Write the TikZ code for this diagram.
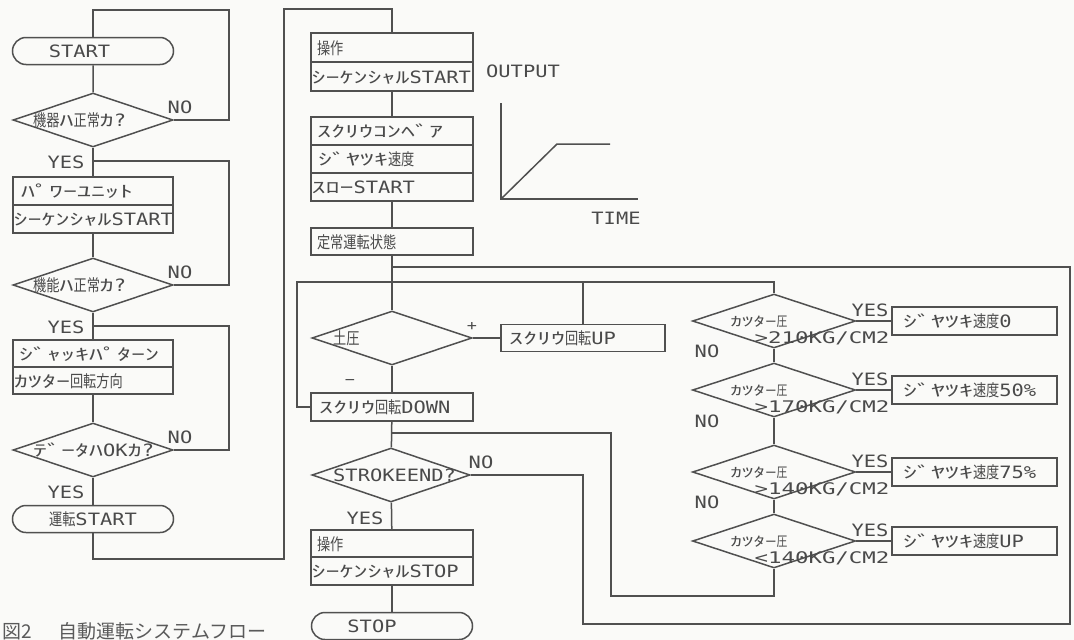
\documentclass[tikz,border=0pt]{standalone}
\usepackage{fontspec}
\usepackage{graphicx}
\usetikzlibrary{shapes.geometric,shapes.misc}
\newfontfamily\zjpkanji[FakeStretch=0.8]{Noto Sans CJK JP}
\newfontfamily\zjpkana[FakeStretch=1.75]{Noto Sans CJK JP}
\newfontfamily\zjpcap{Noto Sans CJK JP}
\newfontfamily\zlatin[FakeStretch=1.2]{DejaVu Sans Mono}
\newfontfamily\zlatinw[FakeStretch=1.4]{DejaVu Sans Mono}
\newcommand\zK[1]{{\zjpkanji\fontsize{16.5pt}{16.5pt}\selectfont #1}}
\newcommand\zH[1]{{\zjpkana\fontsize{16pt}{16pt}\selectfont #1}}
\newcommand\zL[1]{{\zlatin\fontsize{17pt}{17pt}\selectfont #1}}
\newcommand\zLs[1]{{\zlatin\fontsize{14pt}{14pt}\selectfont #1}}
\newcommand\zLw[1]{{\zlatinw\fontsize{16pt}{16pt}\selectfont #1}}
\newcommand\zs[1]{\scalebox{0.82}{#1}}
\newcommand\zbox[3]{\makebox[#1][l]{\hspace*{#2}#3}}
\definecolor{lc}{HTML}{505050}
\definecolor{tc}{HTML}{4A4A4A}
\definecolor{bgc}{HTML}{FAFAF8}
\definecolor{capc}{HTML}{5A5A5A}
\tikzset{
  ln/.style={draw=lc, line width=1.5pt},
  base/.style={inner sep=0pt, text=tc, text height=13pt, text depth=0pt},
  cell/.style={base, draw=lc, line width=1.5pt, rectangle, minimum height=28pt},
  term/.style={base, draw=lc, line width=1.5pt, rounded rectangle, minimum width=161pt, minimum height=27pt},
  dia/.style={draw=lc, line width=1.5pt, diamond, minimum width=160pt, minimum height=54pt, inner sep=0pt},
  txt/.style={base, anchor=west},
  lab/.style={base},
}
\begin{document}
\begin{tikzpicture}[x=1pt,y=-1pt]
\useasboundingbox (0,0) rectangle (1074,640);
\fill[bgc] (0,0) rectangle (1074,640);

% ---------------- left column ----------------
\node[term] (start) at (93,51) {\zL{START}\hspace*{27pt}};
\node[dia] (d1) at (93,120) {};
\node[txt] (d1t) at (33,120) {\zK{機器}\zH{ﾊ}\zK{正常}\zH{ｶ}\zL{?}};
\node[lab] (n1) at (180,107) {\zL{NO}};
\node[lab] (y1) at (66,162) {\zL{YES}};
\node[cell] (b1a) at (93,191) {\zbox{160pt}{8pt}{\zH{ﾊﾟﾜｰﾕﾆｯﾄ}}};
\node[cell] (b1b) at (93,219) {\zbox{160pt}{0.5pt}{\zH{ｼｰｹﾝｼｬﾙ}\zL{START}}};
\node[dia] (d2) at (93,285) {};
\node[txt] (d2t) at (33,285) {\zK{機能}\zH{ﾊ}\zK{正常}\zH{ｶ}\zL{?}};
\node[lab] (n2) at (180,272) {\zL{NO}};
\node[lab] (y2) at (66,327) {\zL{YES}};
\node[cell, minimum height=27pt] (b2a) at (93,353.5) {\zbox{160pt}{6pt}{\zH{ｼﾞｬｯｷﾊﾟﾀｰﾝ}}};
\node[cell, minimum height=27pt] (b2b) at (93,380.5) {\zbox{160pt}{1pt}{\zH{ｶﾂﾀｰ}\zK{回転方向}}};
\node[dia] (d3) at (93,450) {};
\node[txt] (d3t) at (33,450) {\zH{ﾃﾞｰﾀﾊ}\zL{OK}\zH{ｶ}\zL{?}};
\node[lab] (n3) at (180,437) {\zL{NO}};
\node[lab] (y3) at (66,492) {\zL{YES}};
\node[term] (run) at (93,519) {\zK{運転}\zL{START}};

\coordinate (c1) at (229,10);
\coordinate (j1) at (93,161);
\coordinate (c2) at (229,161);
\coordinate (j2) at (93,326);
\coordinate (c3) at (229,326);
\coordinate (c4) at (284,559);
\coordinate (c5) at (284,9);

% ---------------- middle column ----------------
\node[cell, minimum height=29pt] (o1a) at (392,47.5) {\zbox{162pt}{6pt}{\zK{操作}}};
\node[cell, minimum height=29pt] (o1b) at (392,76.5) {\zbox{162pt}{0.5pt}{\zH{ｼｰｹﾝｼｬﾙ}\zL{START}}};
\node[cell] (s1) at (392,131) {\zbox{162pt}{6pt}{\zH{ｽｸﾘｳｺﾝﾍﾞｱ}}};
\node[cell] (s2) at (392,159) {\zbox{162pt}{7pt}{\zH{ｼﾞﾔﾂｷ}\zK{速度}}};
\node[cell] (s3) at (392,187) {\zbox{162pt}{0.5pt}{\zH{ｽﾛｰ}\zL{START}}};
\node[cell, minimum height=27pt] (st) at (392,241.5) {\zbox{162pt}{6pt}{\zK{定常運転状態}}};

\draw[ln] (start) -- (d1);
\draw[ln] (d1.east) -| (c1) -| (start.north);
\draw[ln] (d1) -- (b1a);
\draw[ln] (d2.east) -| (c2) -- (j1);
\draw[ln] (b1b) -- (d2);
\draw[ln] (d2) -- (b2a);
\draw[ln] (d3.east) -| (c3) -- (j2);
\draw[ln] (b2b) -- (d3);
\draw[ln] (d3) -- (run);
\draw[ln] (run.south) |- (c4) -- (c5) -| (o1a.north);

\node[lab] (out) at (523,71) {\zL{OUTPUT}};
\node[lab] (time) at (616,218) {\zL{TIME}};
\coordinate (ax0) at (501,199);
\coordinate (axy) at (501,103);
\coordinate (axx) at (638,199);
\coordinate (rk) at (557,144);
\coordinate (re) at (610,144);
\draw[ln] (axy) -- (ax0) -- (axx);
\draw[ln] (ax0) -- (rk) -- (re);

\node[dia] (dp) at (392,338) {};
\node[txt] (dpt) at (333,338) {\zK{土圧}};
\node[lab] (plus) at (472,324) {\zLs{+}};
\node[lab] (minus) at (350,378) {\zLs{−}};
\node[cell, minimum height=27pt] (up) at (583,338) {\zbox{164pt}{8pt}{\zH{ｽｸﾘｳ}\zK{回転}\zL{UP}}};
\node[cell] (down) at (392,407) {\zbox{162pt}{8pt}{\zH{ｽｸﾘｳ}\zK{回転}\zL{DOWN}}};
\node[dia, minimum width=158pt] (se) at (391,475) {};
\node[txt] (set) at (333,475) {\zL{STROKEEND?}};
\node[lab] (nse) at (481,462) {\zL{NO}};
\node[lab] (yse) at (365,518) {\zL{YES}};
\node[cell, minimum height=27pt] (p1) at (392,543.5) {\zbox{162pt}{6pt}{\zK{操作}}};
\node[cell] (p2) at (392,571) {\zbox{162pt}{0.5pt}{\zH{ｼｰｹﾝｼｬﾙ}\zL{STOP}}};
\node[term] (stop) at (392,626) {\zL{STOP}\hspace*{40pt}};

% ---------------- right column ----------------
\node[dia, minimum width=163pt] (da) at (774,321) {};
\node[dia, minimum width=163pt] (db) at (774,390) {};
\node[dia, minimum width=163pt] (dc) at (774,472) {};
\node[dia, minimum width=163pt] (dd) at (774,541) {};
\node[lab] (ta) at (759,320) {\zs{\zH{ｶﾂﾀｰ}\zK{圧}}};
\node[lab] (va) at (822,337) {\zLw{>210KG/CM2}};
\node[lab] (tb) at (759,389) {\zs{\zH{ｶﾂﾀｰ}\zK{圧}}};
\node[lab] (vb) at (822,406) {\zLw{>170KG/CM2}};
\node[lab] (tcc) at (759,471) {\zs{\zH{ｶﾂﾀｰ}\zK{圧}}};
\node[lab] (vc) at (822,488) {\zLw{>140KG/CM2}};
\node[lab] (td) at (759,540) {\zs{\zH{ｶﾂﾀｰ}\zK{圧}}};
\node[lab] (vd) at (822,557) {\zLw{<140KG/CM2}};
\node[lab] (ya) at (870,310) {\zL{YES}};
\node[lab] (yb) at (870,379) {\zL{YES}};
\node[lab] (yc) at (870,461) {\zL{YES}};
\node[lab] (yd) at (870,530) {\zL{YES}};
\node[lab] (na) at (707,351) {\zL{NO}};
\node[lab] (nb) at (707,421) {\zL{NO}};
\node[lab] (nc) at (707,502) {\zL{NO}};
\node[cell] (ra) at (974.5,321) {\zbox{165pt}{11pt}{\zH{ｼﾞﾔﾂｷ}\zK{速度}\zL{0}}};
\node[cell] (rb) at (974.5,390) {\zbox{165pt}{11pt}{\zH{ｼﾞﾔﾂｷ}\zK{速度}\zL{50\%}}};
\node[cell] (rc) at (974.5,472) {\zbox{165pt}{11pt}{\zH{ｼﾞﾔﾂｷ}\zK{速度}\zL{75\%}}};
\node[cell] (rd) at (974.5,541) {\zbox{165pt}{11pt}{\zH{ｼﾞﾔﾂｷ}\zK{速度}\zL{UP}}};

% ---------------- middle/right connectors ----------------
\coordinate (j3) at (392,267);
\coordinate (c6) at (1070,267);
\coordinate (c7) at (1070,624);
\coordinate (c8) at (583,624);
\coordinate (c9) at (297,282);
\coordinate (j4) at (583,282);
\coordinate (j5) at (392,433);
\coordinate (c10) at (611,433);
\coordinate (c11) at (611,596);

\draw[ln] (o1b) -- (s1);
\draw[ln] (s3) -- (st);
\draw[ln] (st) -- (dp);
\draw[ln] (se.east) -| (c8) -- (c7) -- (c6) -- (j3);
\draw[ln] (down.west) -| (c9) -| (da.north);
\draw[ln] (up.north) -- (j4);
\draw[ln] (dp.east) -- (up.west);
\draw[ln] (dp) -- (down);
\draw[ln] (down) -- (se);
\draw[ln] (dd.south) |- (c11) -- (c10) -- (j5);
\draw[ln] (se) -- (p1);
\draw[ln] (p2) -- (stop);
\draw[ln] (da) -- (db);
\draw[ln] (db) -- (dc);
\draw[ln] (dc) -- (dd);
\draw[ln] (da.east) -- (ra.west);
\draw[ln] (db.east) -- (rb.west);
\draw[ln] (dc.east) -- (rc.west);
\draw[ln] (dd.east) -- (rd.west);

% caption
\node[base, anchor=west, text=capc] (cap) at (2,632) {\zjpcap\fontsize{19pt}{19pt}\selectfont 図2\hspace*{27pt}自動運転システムフロー};
\end{tikzpicture}
\end{document}
